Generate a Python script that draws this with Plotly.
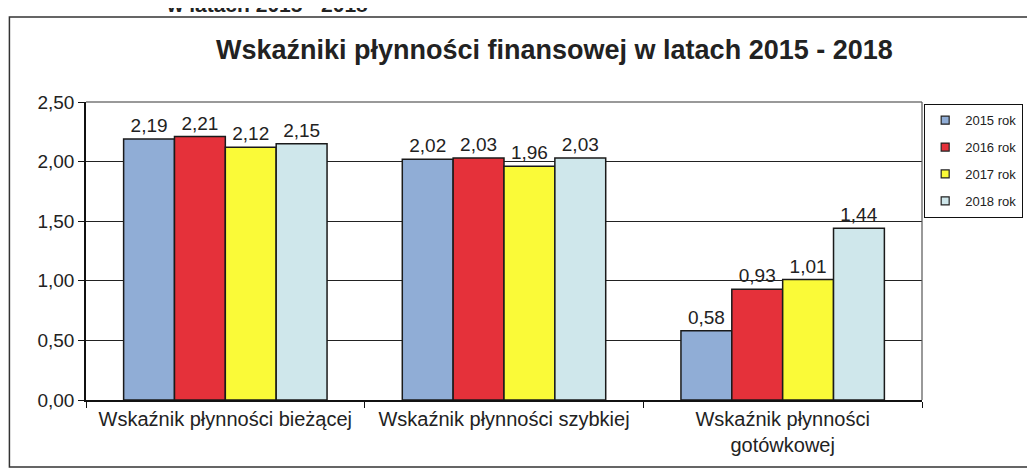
import plotly.graph_objects as go

categories = ["Wskaźnik płynności bieżącej", "Wskaźnik płynności szybkiej", "Wskaźnik płynności<br>gotówkowej"]
years = ["2015 rok", "2016 rok", "2017 rok", "2018 rok"]
v2015 = [2.19, 2.02, 0.58]
v2016 = [2.21, 2.03, 0.93]
v2017 = [2.12, 1.96, 1.01]
v2018 = [2.15, 2.03, 1.44]
series = [v2015, v2016, v2017, v2018]
colors = ["#90ADD6", "#E5313A", "#FAFA38", "#CFE7EB"]
yticks = [0, 0.5, 1.0, 1.5, 2.0, 2.5]

# page has an 8px body margin; work in page pixels and shift
OFF = 8
W, H = 1035 - OFF, 471 - OFF
L = 86 - OFF
T = 102 - OFF
R = W - (932 - OFF)
B = H - (400 - OFF)
pw, ph = W - L - R, H - T - B


def px(x):
    return (x - OFF - L) / pw


def py(y):
    return (H - B - (y - OFF)) / ph


fig = go.Figure()
for name, vals, col in zip(years, series, colors):
    fig.add_trace(go.Bar(
        x=categories, y=vals, name=name, showlegend=False,
        marker=dict(color=col, line=dict(color="#1a1a1a", width=1.5)),
        texttemplate="%{y:.2f}", textposition="outside",
        textfont=dict(family="Arial, Liberation Sans", size=19, color="#222"),
        cliponaxis=False,
    ))
for name, col in zip(years, colors):
    fig.add_trace(go.Scatter(
        x=[None], y=[None], mode="markers", name=name, legendgroup=name,
        marker=dict(symbol="square", size=8, color=col, line=dict(color="#222", width=1.2)),
    ))

fig.update_layout(
    width=W, height=H,
    margin=dict(l=L, r=R, t=T, b=B),
    paper_bgcolor="white", plot_bgcolor="white",
    separators=", ",
    barmode="group", bargap=0.27, bargroupgap=0,
    font=dict(family="Arial, Liberation Sans", color="#222"),
    title=dict(text="<b>Wskaźniki płynności finansowej w latach 2015 - 2018</b>",
               x=px(560), xref="paper", xanchor="center",
               y=1 - (50 - OFF) / H, yanchor="middle",
               font=dict(size=27, color="#222")),
    legend=dict(x=px(934), xanchor="left", y=py(104), yanchor="top",
                bordercolor="#111", borderwidth=1.2, bgcolor="white",
                font=dict(size=13, color="#222"), tracegroupgap=7, itemwidth=30),
    xaxis=dict(showline=True, linecolor="#111", linewidth=1.5,
               ticks="outside", tickson="boundaries", ticklen=6, tickcolor="#111",
               tickfont=dict(size=20, color="#222"), showgrid=False),
    yaxis=dict(range=[0, 2.5], tickvals=yticks, tickformat=".2f",
               showline=True, linecolor="#111", linewidth=1.5,
               ticks="outside", ticklen=6, tickcolor="#111",
               showgrid=True, gridcolor="#222", gridwidth=1,
               tickfont=dict(size=19, color="#222"), zeroline=False),
    shapes=[
        dict(type="line", xref="paper", yref="paper", x0=0, x1=1, y0=1, y1=1,
             line=dict(color="#777", width=1.5)),
        dict(type="line", xref="paper", yref="paper", x0=1, x1=1, y0=0, y1=1,
             line=dict(color="#555", width=1.2)),
        dict(type="rect", xref="paper", yref="paper", x0=px(8.5), x1=px(1050),
             y0=py(467), y1=py(17),
             line=dict(color="#333", width=1.5)),
    ],
    annotations=[
        dict(text="<b>w latach 2015 - 2018</b>", xref="paper", yref="paper",
             x=px(269), y=py(18), xanchor="center", yanchor="bottom", showarrow=False,
             font=dict(size=21, color="#222")),
    ],
)

fig.write_html("out.html")
